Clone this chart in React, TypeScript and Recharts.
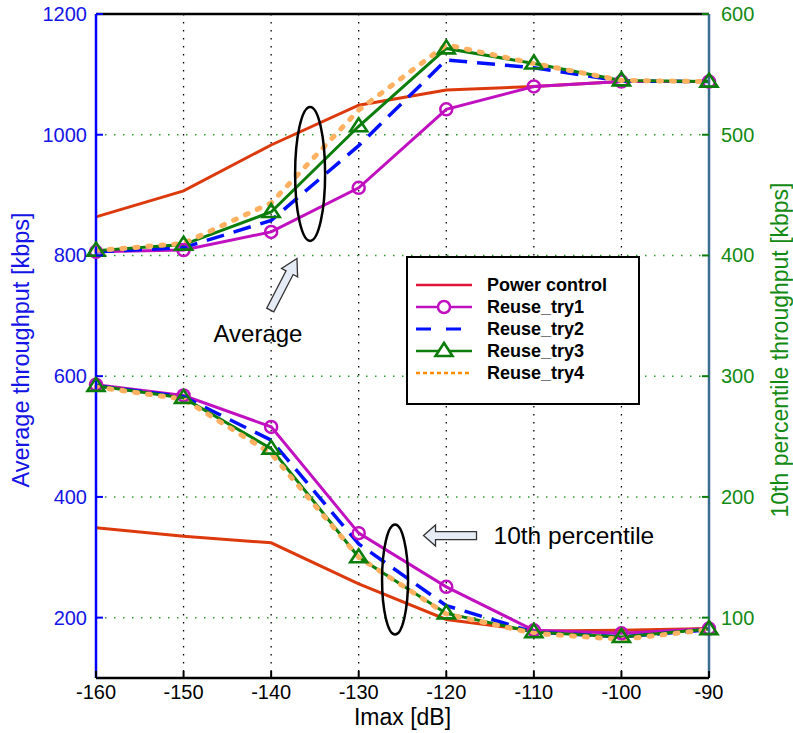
import { LineChart, Line, XAxis, YAxis, CartesianGrid, Legend, ReferenceLine, ReferenceDot } from 'recharts';

// Imax [dB]
const imax = [-160, -150, -140, -130, -120, -110, -100, -90];

// average throughput [kbps] (left axis)
const powerAvg = [864, 907, 983, 1049, 1074, 1080, 1088, 1088];
const try1Avg = [806, 809, 839, 912, 1042, 1080, 1088, 1088];
const try2Avg = [806, 813, 858, 982, 1124, 1111, 1089, 1088];
const try3Avg = [808, 818, 872, 1014, 1143, 1118, 1090, 1088];
const try4Avg = [808, 820, 887, 1041, 1149, 1118, 1090, 1088];

// 10th percentile throughput [kbps] (right axis)
const powerP10 = [174.5, 167.5, 162, 128, 98.5, 89, 89.5, 91];
const try1P10 = [293, 284, 258, 170, 125.5, 89.5, 87, 91];
const try2P10 = [292, 283, 247, 161, 110, 88, 84, 90];
const try3P10 = [292, 282, 240, 150, 103.5, 88, 84, 90.5];
const try4P10 = [291, 281, 236, 150, 103, 87, 82, 90];

const leftTicks = [200, 400, 600, 800, 1000, 1200];
const rightTicks = [100, 200, 300, 400, 500, 600];

const data = imax.map((x, i) => ({
  x,
  powerAvg: powerAvg[i],
  try1Avg: try1Avg[i],
  try2Avg: try2Avg[i],
  try3Avg: try3Avg[i],
  try4Avg: try4Avg[i],
  powerP10: powerP10[i],
  try1P10: try1P10[i],
  try2P10: try2P10[i],
  try3P10: try3P10[i],
  try4P10: try4P10[i],
}));

const FONT = '"Liberation Sans", Arial, sans-serif';
const RED = '#dc3a0c';
const MAGENTA = '#c010c0';
const BLUE = '#0010ff';
const GREEN = '#0b7d0b';
const ORANGE = '#ffb060';

const circleDot = { r: 6, stroke: MAGENTA, strokeWidth: 2.5, fill: 'none' };

const triangleDot = (p: any) => {
  const { cx, cy, index } = p;
  if (cx == null || cy == null) return <g key={`t-${index}`} />;
  return (
    <polygon
      key={`t-${p.dataKey}-${index}`}
      points={`${cx},${cy - 8} ${cx - 8.5},${cy + 5} ${cx + 8.5},${cy + 5}`}
      fill="none"
      stroke={GREEN}
      strokeWidth={2.6}
    />
  );
};

const LeftTick = (p: any) => (
  <g>
    <line x1={p.x + 9} x2={p.x + 16} y1={p.y} y2={p.y} stroke="#0000ff" strokeWidth={2} />
    <text x={p.x} y={p.y} dy="0.35em" textAnchor="end" fill="#1414e6" fontSize={20} fontFamily={FONT}>
      {p.payload.value}
    </text>
  </g>
);

const RightTick = (p: any) => (
  <g>
    <line x1={p.x - 12} x2={p.x - 19} y1={p.y} y2={p.y} stroke={GREEN} strokeWidth={2} />
    <text x={p.x} y={p.y} dy="0.35em" textAnchor="start" fill="#138a13" fontSize={20} fontFamily={FONT}>
      {p.payload.value}
    </text>
  </g>
);

const BottomTick = (p: any) => (
  <g>
    <line x1={p.x} x2={p.x} y1={p.y - 7} y2={p.y - 14} stroke="#000" strokeWidth={2} />
    <text x={p.x} y={p.y} dy={14} textAnchor="middle" fill="#000" fontSize={20} fontFamily={FONT}>
      {p.payload.value}
    </text>
  </g>
);

function blockArrow(tx: number, ty: number, dx: number, dy: number, len: number, shaft: number, headW: number, headL: number) {
  const m = Math.hypot(dx, dy);
  const ux = dx / m;
  const uy = dy / m;
  const nx = -uy;
  const ny = ux;
  const pts = [
    [tx, ty],
    [tx + ux * headL + nx * headW / 2, ty + uy * headL + ny * headW / 2],
    [tx + ux * headL + nx * shaft / 2, ty + uy * headL + ny * shaft / 2],
    [tx + ux * len + nx * shaft / 2, ty + uy * len + ny * shaft / 2],
    [tx + ux * len - nx * shaft / 2, ty + uy * len - ny * shaft / 2],
    [tx + ux * headL - nx * shaft / 2, ty + uy * headL - ny * shaft / 2],
    [tx + ux * headL - nx * headW / 2, ty + uy * headL - ny * headW / 2],
  ];
  return pts.map((q) => q.join(',')).join(' ');
}

const legendItems = [
  { name: 'Power control', color: '#e0143c', dash: undefined, mark: 'none', width: 2.5 },
  { name: 'Reuse_try1', color: MAGENTA, dash: undefined, mark: 'circle', width: 2.5 },
  { name: 'Reuse_try2', color: BLUE, dash: '15 15', mark: 'none', width: 3 },
  { name: 'Reuse_try3', color: GREEN, dash: undefined, mark: 'triangle', width: 2.5 },
  { name: 'Reuse_try4', color: '#ff8c00', dash: '4 3', mark: 'none', width: 2.5 },
];

const renderLegend = () => (
  <svg width={234} height={149} style={{ display: 'block' }}>
    <rect x={1} y={1} width={232} height={147} fill="#fff" stroke="#000" strokeWidth={2} />
    {legendItems.map((it, i) => {
      const y = 29 + i * 22;
      return (
        <g key={it.name}>
          <line x1={10} x2={66} y1={y} y2={y} stroke={it.color} strokeWidth={it.width} strokeDasharray={it.dash} />
          {it.mark === 'circle' && <circle cx={38} cy={y} r={6} fill="#fff" stroke={it.color} strokeWidth={2.5} />}
          {it.mark === 'triangle' && (
            <polygon points={`38,${y - 8} ${29.5},${y + 5} ${46.5},${y + 5}`} fill="#fff" stroke={it.color} strokeWidth={2.6} />
          )}
          <text x={81} y={y} dy="0.36em" fontSize={18} fontWeight="bold" fontFamily={FONT} fill="#000">
            {it.name}
          </text>
        </g>
      );
    })}
  </svg>
);

export default function App() {
  return (
    <div style={{ position: 'absolute', left: 0, top: 0, background: '#fff', fontFamily: FONT }}>
      <LineChart width={793} height={733} data={data} margin={{ top: 14, right: 0, bottom: 0, left: 0 }}>
        <CartesianGrid horizontal={false} stroke="#000" strokeDasharray="1.5 6.5" strokeWidth={1.3} />
        <CartesianGrid vertical={false} yAxisId="left" stroke="#2ea02e" strokeDasharray="1.5 7.5" strokeWidth={1.5} />
        <XAxis
          dataKey="x"
          type="number"
          domain={[-160, -90]}
          ticks={imax}
          height={55}
          axisLine={{ stroke: '#000', strokeWidth: 2.5 }}
          tickLine={false}
          tickSize={0}
          tickMargin={7}
          tick={BottomTick}
          interval={0}
          label={{
            content: (p: any) => (
              <text x={p.viewBox.x + p.viewBox.width / 2} y={p.viewBox.y + 47} textAnchor="middle" fontSize={23} fontFamily={FONT} fill="#000">
                Imax [dB]
              </text>
            ),
          }}
        />
        <YAxis
          yAxisId="left"
          domain={[100, 1200]}
          ticks={leftTicks}
          width={96}
          axisLine={{ stroke: '#0000ff', strokeWidth: 2.5 }}
          tickLine={false}
          tickSize={0}
          tickMargin={9}
          tick={LeftTick}
          interval={0}
          label={{
            content: () => (
              <text
                x={21}
                y={350}
                transform="rotate(-90 21 350)"
                dy="0.35em"
                textAnchor="middle"
                fontSize={23.5}
                fontFamily={FONT}
                fill="#1414e6"
              >
                Average throughput [kbps]
              </text>
            ),
          }}
        />
        <YAxis
          yAxisId="right"
          orientation="right"
          domain={[50, 600]}
          ticks={rightTicks}
          width={84}
          axisLine={{ stroke: '#3a6e8e', strokeWidth: 2.5 }}
          tickLine={false}
          tickSize={0}
          tickMargin={12}
          tick={RightTick}
          interval={0}
          label={{
            content: () => (
              <text
                x={780}
                y={350}
                transform="rotate(-90 780 350)"
                dy="0.35em"
                textAnchor="middle"
                fontSize={23}
                fontFamily={FONT}
                fill="#138a13"
              >
                10th percentile throughput [kbps]
              </text>
            ),
          }}
        />
        <ReferenceLine yAxisId="left" y={1200} stroke="#000" strokeWidth={2.5} />

        <Line yAxisId="left" dataKey="powerAvg" stroke={RED} strokeWidth={3} dot={false} activeDot={false} isAnimationActive={false} />
        <Line yAxisId="left" dataKey="try1Avg" stroke={MAGENTA} strokeWidth={3} dot={circleDot} activeDot={false} isAnimationActive={false} />
        <Line yAxisId="left" dataKey="try2Avg" stroke={BLUE} strokeWidth={3.5} strokeDasharray="18 10" dot={false} activeDot={false} isAnimationActive={false} />
        <Line yAxisId="left" dataKey="try3Avg" stroke={GREEN} strokeWidth={3} dot={triangleDot} activeDot={false} isAnimationActive={false} />
        <Line yAxisId="left" dataKey="try4Avg" stroke={ORANGE} strokeWidth={5} strokeDasharray="3 10" strokeLinecap="round" dot={false} activeDot={false} isAnimationActive={false} />

        <Line yAxisId="right" dataKey="powerP10" stroke={RED} strokeWidth={3} dot={false} activeDot={false} isAnimationActive={false} />
        <Line yAxisId="right" dataKey="try1P10" stroke={MAGENTA} strokeWidth={3} dot={circleDot} activeDot={false} isAnimationActive={false} />
        <Line yAxisId="right" dataKey="try2P10" stroke={BLUE} strokeWidth={3.5} strokeDasharray="18 10" dot={false} activeDot={false} isAnimationActive={false} />
        <Line yAxisId="right" dataKey="try3P10" stroke={GREEN} strokeWidth={3} dot={triangleDot} activeDot={false} isAnimationActive={false} />
        <Line yAxisId="right" dataKey="try4P10" stroke={ORANGE} strokeWidth={5} strokeDasharray="3 10" strokeLinecap="round" dot={false} activeDot={false} isAnimationActive={false} />

        {/* annotation ellipses */}
        <ReferenceDot
          yAxisId="left"
          x={-135.55}
          y={935}
          r={0}
          shape={(p: any) => <ellipse cx={p.cx} cy={p.cy} rx={15} ry={67} fill="none" stroke="#000" strokeWidth={2.5} />}
        />
        <ReferenceDot
          yAxisId="left"
          x={-125.85}
          y={263}
          r={0}
          shape={(p: any) => <ellipse cx={p.cx} cy={p.cy} rx={13} ry={55} fill="none" stroke="#000" strokeWidth={2.5} />}
        />
        {/* annotation arrows + text */}
        <ReferenceDot
          yAxisId="left"
          x={-137.05}
          y={795}
          r={0}
          shape={(p: any) => (
            <g>
              <polygon points={blockArrow(p.cx, p.cy, -27, 52, 58, 8, 18, 16)} fill="#e6ecf5" stroke="#333" strokeWidth={1.3} />
              <text x={p.cx - 39} y={p.cy + 84} textAnchor="middle" fontSize={24} fontFamily={FONT} fill="#000">
                Average
              </text>
            </g>
          )}
        />
        <ReferenceDot
          yAxisId="left"
          x={-122.6}
          y={336}
          r={0}
          shape={(p: any) => (
            <g>
              <polygon points={blockArrow(p.cx, p.cy, 1, 0, 53, 8, 21, 12)} fill="#e6ecf5" stroke="#333" strokeWidth={1.3} />
              <text x={p.cx + 70} y={p.cy} dy="0.35em" textAnchor="start" fontSize={24.5} fontFamily={FONT} fill="#000">
                10th percentile
              </text>
            </g>
          )}
        />

        <Legend
          layout="horizontal"
          verticalAlign="middle"
          align="center"
          content={renderLegend}
          wrapperStyle={{ left: 406, top: 256, width: 234, height: 149 }}
        />
      </LineChart>
    </div>
  );
}
